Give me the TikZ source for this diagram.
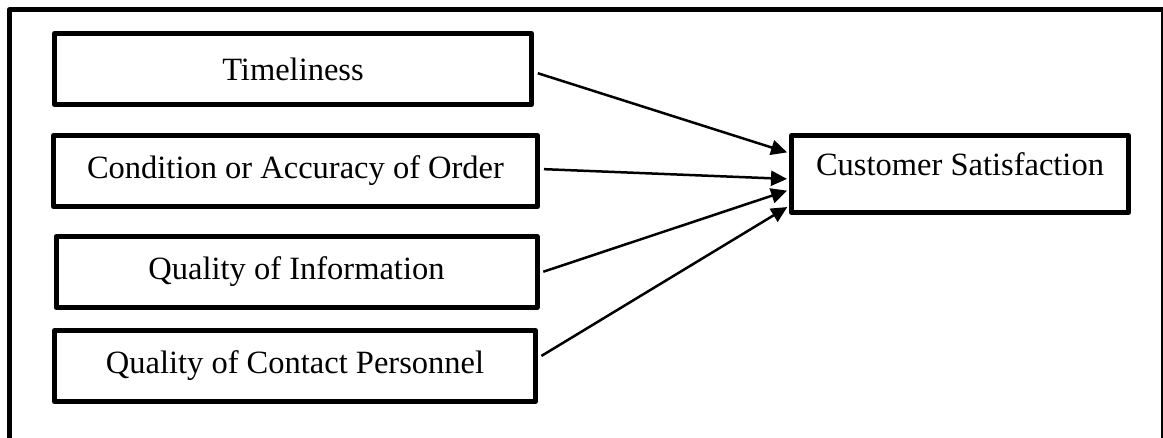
\documentclass[tikz,border=0pt]{standalone}
\usepackage{fontspec}
\setmainfont{Liberation Serif}
\usetikzlibrary{positioning, arrows.meta}

\begin{document}
\begin{tikzpicture}[x=1pt, y=1pt,
	factor/.style={draw, line width=5pt, line join=round, minimum width=481pt, minimum height=71pt, inner sep=0pt, font=\fontsize{32.5}{39}\selectfont},
	outcome/.style={factor, minimum width=337pt, minimum height=77pt},
	link/.style={line width=2.5pt, -{Triangle[length=16pt,width=15pt]}, shorten <=4pt, shorten >=2pt}]
\useasboundingbox (0,0) rectangle (1163,-437);

% frame, open at the bottom
\draw[line width=4.5pt, line join=round] (9.5,-450) -- (9.5,-9.5) -- (1163.5,-9.5) -- (1163.5,-450);

\node[factor, minimum width=477pt](tim) at (293,-69) {Timeliness};
\node[factor, minimum width=484pt](cond) at (295.5,-171) {Condition or Accuracy of Order};
\node[factor](info) at (296.5,-272) {Quality of Information};
\node[factor](cont) at (295,-366) {Quality of Contact Personnel};
\node[outcome, text depth=2pt, text height=4pt](cs) at (960,-174) {Customer Satisfaction};

\draw	([yshift=-3pt]tim.east) edge[link] ([yshift=21pt]cs.west)
		([yshift=2pt]cond.east) edge[link] ([yshift=-5pt]cs.west)
		([yshift=-1pt]info.east) edge[link] ([yshift=-16pt]cs.west)
		([yshift=8pt]cont.east) edge[link] ([yshift=-32pt]cs.west);

\end{tikzpicture}
\end{document}
